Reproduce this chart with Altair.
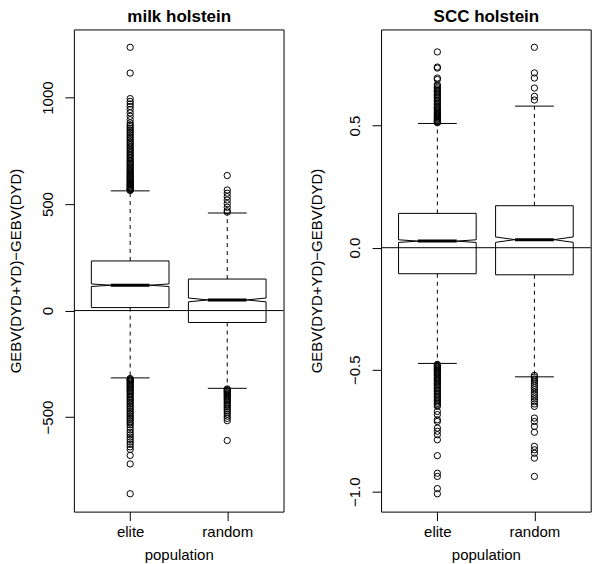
import altair as alt
import pandas as pd

# ---------------- data ----------------
populations = ["elite", "random"]
positions = [1, 2]
zero_line = [0]

# milk holstein
milk_q1 = [14, -56]
milk_median = [119, 50]
milk_q3 = [233, 148]
milk_whisker_low = [-316, -365]
milk_whisker_high = [562, 458]
milk_notch = [6, 9]
milk_outliers_elite = [
    1236, 1115, 995, 982, 970, 958, 944, 928, 912, 896, 881, 872, 864, 856,
    848, 840, 832, 824, 816, 808, 800, 792, 785, 778, 770, 762, 755, 748,
    740, 733, 726, 719, 712, 705, 698, 692, 686, 680, 674, 668, 662, 656,
    650, 645, 640, 635, 630, 625, 620, 615, 610, 605, 600, 596, 592, 588,
    584, 580, 576, 572, 569, 566, 564,
    -319, -323, -327, -331, -336, -341, -346, -351, -357, -363, -369, -375,
    -381, -388, -395, -402, -409, -416, -423, -431, -439, -447, -455, -463,
    -471, -479, -487, -495, -503, -511, -519, -527, -536, -548, -560, -572,
    -583, -594, -605, -617, -628, -640, -652, -680, -720, -860,
]
milk_outliers_random = [
    634, 566, 551, 535, 519, 502, 485, 469, 462,
    -368, -372, -376, -380, -385, -390, -395, -400, -406, -412, -418, -424,
    -431, -438, -445, -452, -460, -468, -477, -486, -496, -506, -517, -610,
]
milk_ticks = [-500, 0, 500, 1000]

# SCC holstein
scc_q1 = [-0.1066, -0.111]
scc_median = [0.027, 0.033]
scc_q3 = [0.1406, 0.172]
scc_whisker_low = [-0.474, -0.529]
scc_whisker_high = [0.509, 0.580]
scc_notch = [0.0055, 0.011]
scc_outliers_elite = [
    0.802, 0.740, 0.736, 0.695, 0.689, 0.668, 0.662, 0.656, 0.650, 0.645,
    0.640, 0.634, 0.628, 0.622, 0.616, 0.610, 0.604, 0.598, 0.592, 0.586,
    0.580, 0.575, 0.570, 0.565, 0.560, 0.555, 0.550, 0.546, 0.542, 0.538,
    0.534, 0.530, 0.526, 0.522, 0.518, 0.515, 0.512,
    -0.478, -0.482, -0.486, -0.490, -0.494, -0.498, -0.502, -0.506, -0.510,
    -0.515, -0.520, -0.525, -0.530, -0.535, -0.540, -0.545, -0.550, -0.555,
    -0.560, -0.566, -0.572, -0.578, -0.584, -0.590, -0.596, -0.602, -0.608,
    -0.614, -0.620, -0.626, -0.632, -0.638, -0.644, -0.650, -0.671, -0.684,
    -0.705, -0.712, -0.739, -0.752, -0.766, -0.787, -0.852, -0.924, -0.937,
    -0.987, -1.008,
]
scc_outliers_random = [
    0.821, 0.716, 0.695, 0.654, 0.620, 0.605,
    -0.523, -0.530, -0.538, -0.546, -0.555, -0.564, -0.573, -0.582, -0.592,
    -0.601, -0.611, -0.620, -0.630, -0.640, -0.650, -0.698, -0.712, -0.732,
    -0.756, -0.814, -0.828, -0.842, -0.862, -0.937,
]
scc_ticks = [-1.0, -0.5, 0.0, 0.5]

# ---------------- style ----------------
FONT = "Liberation Sans"
W, H = 210, 483
BOX_HALF = 0.4
NOTCH_HALF = 0.2
CAP_HALF = 0.2
Y_LABEL = "GEBV(DYD+YD)\u2212GEBV(DYD)"

label_map = "{" + ",".join(f"'{p}':'{n}'" for p, n in zip(positions, populations)) + "}"


def panel(title, q1, med, q3, lo, hi, notch, out_e, out_r, ticks, fmt, title_x):
    allv = q1 + med + q3 + lo + hi + out_e + out_r
    vmin, vmax = min(allv), max(allv)
    ext = 0.04 * (vmax - vmin)
    ydom = [vmin - ext, vmax + ext]
    xlo, xhi = positions[0] - 0.5, positions[-1] + 0.5
    xext = 0.04 * (xhi - xlo)
    xdom = [xlo - xext, xhi + xext]

    def xscale():
        return alt.Scale(domain=xdom, nice=False, zero=False)

    yscale = alt.Scale(domain=ydom, nice=False, zero=False)
    bottom_axis = alt.Axis(
        orient="bottom",
        values=positions, labelExpr=f"{label_map}[datum.value]", title="population",
        domain=False, grid=False, tickSize=9, tickColor="black", tickWidth=1,
        labelFont=FONT, labelFontSize=15, labelColor="black", labelBaseline="alphabetic",
        labelPadding=16.3, labelFlush=False, labelOverlap=False,
        titleFont=FONT, titleFontSize=15, titleFontWeight="normal", titleColor="black",
        titleBaseline="alphabetic", titleY=48, titleX=W / 2, titleAlign="center",
    )
    top_axis = alt.Axis(
        orient="top", title=title, labels=False, ticks=False, domain=False, grid=False,
        titleFont=FONT, titleFontSize=17, titleFontWeight="bold", titleColor="black",
        titleBaseline="alphabetic", titleY=-7.5, titleX=W / 2, titleAlign="center",
    )
    yaxis = alt.Axis(
        values=ticks, format=fmt, title=Y_LABEL,
        domain=False, grid=False, tickSize=9, tickColor="black", tickWidth=1,
        labelFont=FONT, labelFontSize=15, labelColor="black", labelAngle=270,
        labelAlign="center", labelBaseline="alphabetic", labelPadding=12.5,
        labelFlush=False, labelOverlap=False,
        titleFont=FONT, titleFontSize=15, titleFontWeight="normal", titleColor="black",
        titleAngle=270, titleBaseline="alphabetic", titleAlign="center",
        titleX=title_x, titleY=H / 2,
    )

    def X(f, axis=None):
        return alt.X(f, type="quantitative", scale=xscale(), axis=axis)

    def Y(f):
        return alt.Y(f, type="quantitative", scale=yscale, axis=yaxis)

    # box outlines with notches
    rows = []
    for g, (pos, a, m, b, n) in enumerate(zip(positions, q1, med, q3, notch)):
        pts = [(-BOX_HALF, a), (-BOX_HALF, m - n), (-NOTCH_HALF, m), (-BOX_HALF, m + n),
               (-BOX_HALF, b), (BOX_HALF, b), (BOX_HALF, m + n), (NOTCH_HALF, m),
               (BOX_HALF, m - n), (BOX_HALF, a), (-BOX_HALF, a)]
        for i, (dx, y) in enumerate(pts):
            rows.append({"grp": populations[g], "px": pos + dx, "py": y, "ord": i})
    box_df = pd.DataFrame(rows)

    whisk_df = pd.DataFrame({
        "pos": positions + positions,
        "a": q1 + q3,
        "b": lo + hi,
    })
    cap_df = pd.DataFrame({
        "l": [p - CAP_HALF for p in positions] * 2,
        "r": [p + CAP_HALF for p in positions] * 2,
        "v": lo + hi,
    })
    med_df = pd.DataFrame({
        "l": [p - NOTCH_HALF for p in positions],
        "r": [p + NOTCH_HALF for p in positions],
        "m": med,
    })
    out_df = pd.DataFrame({
        "pos": [positions[0]] * len(out_e) + [positions[1]] * len(out_r),
        "value": out_e + out_r,
    })
    zero_df = pd.DataFrame({"v": zero_line})

    whiskers = alt.Chart(whisk_df).mark_rule(color="black", strokeWidth=1, strokeDash=[4, 4]).encode(
        x=X("pos", bottom_axis), y=Y("a"), y2="b")
    caps = alt.Chart(cap_df).mark_rule(color="black", strokeWidth=1).encode(
        x=X("l"), x2="r", y=Y("v"))
    boxes = alt.Chart(box_df).mark_line(color="black", strokeWidth=1).encode(
        x=X("px"), y=Y("py"), detail="grp:N", order="ord:Q")
    medians = alt.Chart(med_df).mark_rule(color="black", strokeWidth=3).encode(
        x=X("l", top_axis), x2="r", y=Y("m"))
    points = alt.Chart(out_df).mark_point(
        shape="circle", filled=False, size=40, strokeWidth=1, color="black", opacity=1
    ).encode(x=X("pos"), y=Y("value"))
    zero = alt.Chart(zero_df).mark_rule(color="black", strokeWidth=1).encode(y=Y("v"))

    return alt.layer(whiskers, caps, boxes, medians, points, zero).resolve_scale(
        x="independent"
    ).properties(width=W, height=H)


left = panel("milk holstein", milk_q1, milk_median, milk_q3, milk_whisker_low,
             milk_whisker_high, milk_notch, milk_outliers_elite, milk_outliers_random,
             milk_ticks, "d", -53.3)
right = panel("SCC holstein", scc_q1, scc_median, scc_q3, scc_whisker_low,
              scc_whisker_high, scc_notch, scc_outliers_elite, scc_outliers_random,
              scc_ticks, ".1f", -59.5)

chart = alt.hconcat(left, right, spacing=97.7, bounds="flush").configure(
    font=FONT,
    padding={"left": 0, "top": -1, "right": 0, "bottom": 0},
    background="white",
).configure_view(stroke="black", strokeWidth=1)

chart.save("out.html", embed_options={"renderer": "svg", "actions": False})
